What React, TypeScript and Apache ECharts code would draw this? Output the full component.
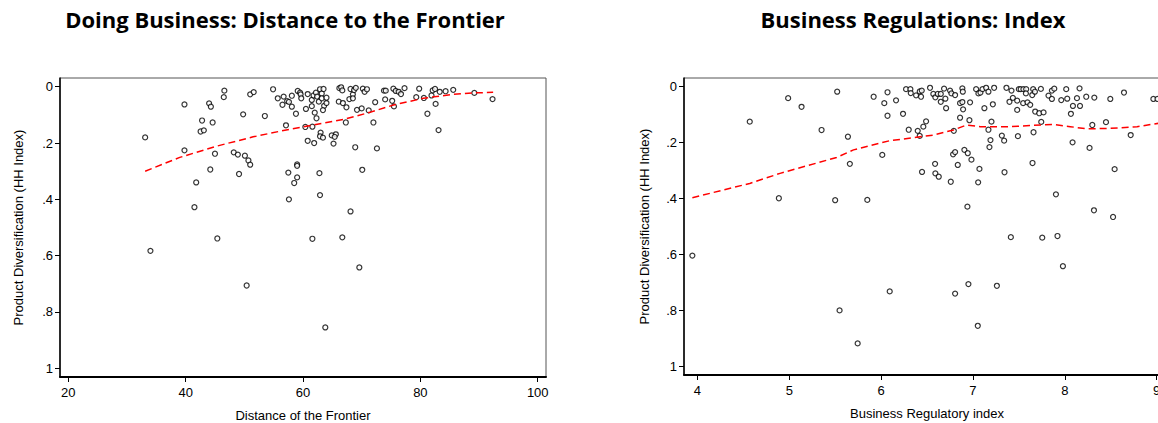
import React, { useEffect, useRef } from "react";
import * as echarts from "echarts";

// Left panel: Doing Business distance to frontier vs HHI
const dbX = [33.1,34.0,39.8,39.8,41.8,41.5,42.8,42.55,43.1,44.0,44.3,44.6,44.2,45.0,45.4,46.6,46.5,48.2,48.9,49.1,49.8,50.1,50.7,51.0,51.0,51.6,50.4,53.5,54.9,55.7,56.7,56.5,57.3,57.1,57.5,57.6,57.6,58.1,59.1,59.5,59.6,59.7,58.1,58.8,60.8,61.5,61.5,61.8,62.2,62.4,62.7,62.9,63.2,63.5,63.2,64.0,63.6,64.0,63.4,62.0,62.3,60.5,60.4,61.6,60.8,61.9,63.0,62.9,63.4,64.9,65.6,65.4,65.2,66.2,66.5,66.7,66.1,66.8,67.3,67.4,67.9,68.1,68.5,68.7,68.5,69.0,69.2,70.0,68.9,70.2,70.5,70.9,71.2,72.3,72.0,72.6,70.1,73.8,74.1,74.0,75.2,75.5,75.4,75.8,76.3,76.7,77.3,79.3,79.8,80.6,81.2,81.9,82.1,82.5,82.6,83.1,83.3,84.3,85.6,89.2,92.3,59.0,59.0,59.0,58.5,62.8,62.9,68.1,61.6,66.7,69.6,63.8];
const dbY = [0.18,0.583,0.063,0.226,0.34,0.428,0.12,0.159,0.155,0.059,0.071,0.127,0.294,0.238,0.539,0.014,0.037,0.233,0.241,0.31,0.098,0.245,0.262,0.277,0.027,0.019,0.706,0.104,0.009,0.041,0.035,0.064,0.051,0.137,0.305,0.40,0.054,0.032,0.015,0.021,0.027,0.041,0.071,0.096,0.026,0.047,0.069,0.031,0.021,0.035,0.053,0.009,0.024,0.008,0.041,0.039,0.068,0.058,0.083,0.092,0.112,0.079,0.143,0.142,0.192,0.20,0.163,0.176,0.181,0.173,0.169,0.178,0.202,0.005,0.002,0.013,0.053,0.058,0.127,0.073,0.044,0.008,0.027,0.012,0.041,0.004,0.082,0.077,0.215,0.007,0.018,0.009,0.084,0.055,0.127,0.219,0.295,0.014,0.014,0.045,0.050,0.070,0.007,0.015,0.018,0.026,0.005,0.037,0.007,0.040,0.096,0.031,0.013,0.008,0.061,0.154,0.018,0.016,0.011,0.022,0.044,0.276,0.281,0.322,0.342,0.307,0.385,0.443,0.540,0.535,0.642,0.855];
const dbFitX = [33.1,39.0,45.3,51.5,56.1,57.8,66.9,71.4,75.4,80.5,85.6,89.0,92.4];
const dbFitY = [0.30,0.251,0.211,0.178,0.158,0.151,0.116,0.091,0.065,0.041,0.027,0.022,0.020];

// Right panel: Business regulatory index vs HHI
const brX = [3.945,4.57,4.887,4.988,5.134,5.352,5.50,5.522,5.639,5.66,5.85,5.919,6.013,6.035,6.07,6.07,5.548,5.745,6.094,6.806,6.951,7.053,7.261,7.98,6.163,6.239,6.272,6.319,6.323,6.381,6.421,6.443,6.435,6.301,6.399,6.421,6.46,6.49,6.446,6.533,6.569,6.591,6.617,6.65,6.686,6.70,6.65,6.708,6.751,6.766,6.806,6.885,6.89,6.86,6.885,6.893,6.86,6.962,6.969,6.792,6.784,6.806,6.907,6.944,6.984,6.835,6.588,6.591,6.628,6.759,7.071,7.057,6.94,7.035,7.06,7.082,7.104,7.144,7.169,7.125,7.217,7.231,7.202,7.169,7.191,7.18,7.315,7.34,7.344,7.365,7.42,7.398,7.435,7.482,7.482,7.49,7.50,7.52,7.55,7.58,7.577,7.547,7.594,7.624,7.646,7.656,7.675,7.74,7.678,7.722,7.769,7.744,7.66,7.649,7.823,7.86,7.886,7.86,7.962,8.016,8.027,8.089,8.067,8.161,8.133,8.166,8.085,8.234,8.322,8.30,8.27,8.449,8.496,8.543,8.645,8.718,8.965,9.01,7.904,8.318,8.526,7.413,7.755,7.921];
const brY = [0.604,0.125,0.399,0.041,0.072,0.155,0.406,0.018,0.179,0.276,0.405,0.036,0.244,0.059,0.020,0.104,0.80,0.918,0.732,0.740,0.706,0.855,0.712,0.642,0.049,0.097,0.009,0.009,0.023,0.031,0.017,0.014,0.036,0.154,0.158,0.176,0.143,0.124,0.305,0.004,0.026,0.038,0.026,0.026,0.007,0.043,0.054,0.077,0.014,0.024,0.030,0.006,0.018,0.059,0.055,0.081,0.111,0.120,0.056,0.158,0.242,0.234,0.226,0.238,0.261,0.280,0.276,0.310,0.322,0.340,0.294,0.342,0.429,0.009,0.024,0.021,0.009,0.004,0.018,0.077,0.063,0.004,0.125,0.154,0.191,0.216,0.175,0.193,0.306,0.004,0.014,0.054,0.040,0.050,0.083,0.177,0.009,0.009,0.009,0.009,0.024,0.059,0.056,0.065,0.030,0.009,0.018,0.008,0.089,0.095,0.092,0.126,0.163,0.273,0.032,0.014,0.007,0.044,0.048,0.009,0.043,0.069,0.097,0.006,0.041,0.069,0.199,0.036,0.039,0.137,0.219,0.127,0.044,0.295,0.021,0.173,0.044,0.044,0.385,0.442,0.466,0.538,0.540,0.534];
const brFitX = [3.945,4.57,4.90,5.516,5.70,5.879,6.097,6.242,6.57,6.788,6.933,7.08,7.41,7.62,7.878,8.06,8.242,8.496,8.787,9.02,9.1];
const brFitY = [0.397,0.346,0.310,0.253,0.226,0.211,0.193,0.187,0.173,0.155,0.137,0.143,0.143,0.139,0.135,0.143,0.151,0.149,0.143,0.131,0.128];

const yTicks = [0, 0.2, 0.4, 0.6, 0.8, 1];
const dbTicks = [20, 40, 60, 80, 100];
const brTicks = [4, 5, 6, 7, 8, 9];

const titles = ["Doing Business: Distance to the Frontier", "Business Regulations: Index"];
const xNames = ["Distance of the Frontier", "Business Regulatory index"];
const yName = "Product Diversification (HH Index)";

const zip = (xs: number[], ys: number[]) => xs.map((x, i) => [x, ys[i]]);
const fmtY = (v: number) => (v === 0 ? "0" : v === 1 ? "1" : String(Math.round(v * 10) / 10).replace(/^0/, ""));

export default function App() {
  const ref = useRef<HTMLDivElement>(null);
  useEffect(() => {
    if (!ref.current) return;
    const chart = echarts.init(ref.current, null, { renderer: "svg" });
    const font = "Liberation Sans";
    const axisLine = { show: true, onZero: false, lineStyle: { color: "#000", width: 1.5 } };
    const tick = { show: true, inside: false, length: 5, lineStyle: { color: "#000", width: 1 } };
    const lbl = { color: "#000", fontFamily: font, fontSize: 13 };
    const mkY = (idx: number, gap: number) => ({
      type: "value", gridIndex: idx, min: -0.031, max: 1.031, inverse: true,
      axisLine, splitLine: { show: false },
      axisTick: { ...tick, customValues: yTicks },
      axisLabel: { ...lbl, margin: 7, customValues: yTicks, formatter: fmtY },
      name: yName, nameLocation: "middle", nameGap: gap, nameRotate: 90,
      nameTextStyle: { color: "#000", fontFamily: font, fontSize: 13 },
    });
    const mkX = (idx: number, min: number, max: number, ticks: number[], name: string) => ({
      type: "value", gridIndex: idx, min, max,
      axisLine: { show: true, onZero: false, lineStyle: { color: "#000", width: 2 } }, splitLine: { show: false },
      axisTick: { ...tick, customValues: ticks },
      axisLabel: { ...lbl, margin: 9, customValues: ticks },
      name, nameLocation: "middle", nameGap: 32,
      nameTextStyle: { color: "#000", fontFamily: font, fontSize: 13 },
    });
    const scat = (i: number, data: number[][]) => ({
      type: "scatter", xAxisIndex: i, yAxisIndex: i, data, symbol: "circle", symbolSize: 5,
      itemStyle: { color: "#fff", borderColor: "#000", borderWidth: 1.2 }, silent: true,
    });
    const fit = (i: number, data: number[][]) => ({
      type: "line", xAxisIndex: i, yAxisIndex: i, data, showSymbol: false, symbol: "none",
      lineStyle: { color: "#ff0000", width: 1.5, type: [7, 4] }, silent: true, z: 3,
    });
    const titleStyle = (text: string) => ({
      text, align: "center", textAlign: "center", verticalAlign: "top", textVerticalAlign: "top",
      fontFamily: "Open Sans", fontWeight: "bold", fontSize: 22, fill: "#000",
    });
    chart.setOption({
      animation: false,
      backgroundColor: "#fff",
      grid: [
        { left: 60, top: 78, width: 486, height: 299, show: true, borderColor: "#555", borderWidth: 1, backgroundColor: "#fff", containLabel: false, outerBoundsMode: "none" },
        { left: 684, top: 78, width: 486, height: 297, show: true, borderColor: "#555", borderWidth: 1, backgroundColor: "#fff", containLabel: false, outerBoundsMode: "none" },
      ],
      xAxis: [
        mkX(0, 18.59, 101.41, dbTicks, xNames[0]),
        mkX(1, 3.854, 9.146, brTicks, xNames[1]),
      ],
      yAxis: [mkY(0, 35), mkY(1, 33)],
      graphic: [
        { type: "text", x: 285, y: 8, style: titleStyle(titles[0]) },
        { type: "text", x: 913, y: 8, style: titleStyle(titles[1]) },
      ],
      series: [
        scat(0, zip(dbX, dbY)),
        fit(0, zip(dbFitX, dbFitY)),
        scat(1, zip(brX, brY)),
        fit(1, zip(brFitX, brFitY)),
      ],
    });
    return () => chart.dispose();
  }, []);
  return <div ref={ref} style={{ position: "fixed", left: 0, top: 0, width: 1158, height: 423 }} />;
}
